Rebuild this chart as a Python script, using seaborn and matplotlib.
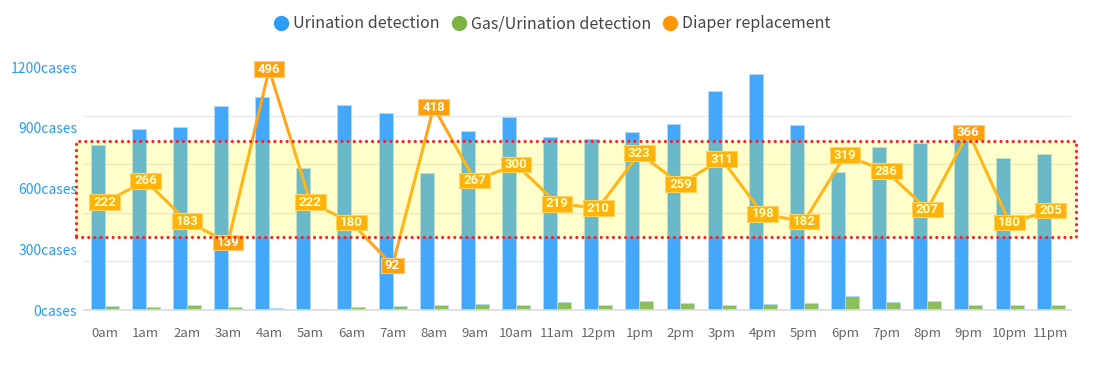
import numpy as np
import pandas as pd
import matplotlib
matplotlib.use("Agg")
import matplotlib.pyplot as plt
import seaborn as sns
from matplotlib.lines import Line2D
from matplotlib.patches import Rectangle
from matplotlib.path import Path
from matplotlib.transforms import blended_transform_factory

# data
hours = ["0am", "1am", "2am", "3am", "4am", "5am", "6am", "7am", "8am", "9am", "10am", "11am",
         "12pm", "1pm", "2pm", "3pm", "4pm", "5pm", "6pm", "7pm", "8pm", "9pm", "10pm", "11pm"]
urination = [816, 893, 906, 1008, 1054, 700, 1013, 972, 676, 885, 955, 854,
             845, 881, 919, 1084, 1167, 914, 684, 807, 824, 849, 753, 770]
gas_urination = [20, 17, 23, 17, 10, 5, 15, 20, 27, 30, 25, 42,
                 27, 43, 33, 27, 28, 37, 69, 42, 46, 27, 27, 27]
diaper = [222, 266, 183, 139, 496, 222, 180, 92, 418, 267, 300, 219,
          210, 323, 259, 311, 198, 182, 319, 286, 207, 366, 180, 205]
series_names = ["Urination detection", "Gas/Urination detection", "Diaper replacement"]
left_ticks = [0, 300, 600, 900, 1200]
right_ticks = [0, 100, 200, 300, 400, 500]
band_range = [151, 349]   # highlighted range on the replacement axis

BLUE = "#44a8fa"
GREEN = "#8cbf5a"
LINE = "#ffa41c"
BOX = "#ff9f0a"
LEGEND_COLORS = ["#2d9cf5", "#7cb342", "#ff9800"]

sns.set_style("white")
plt.rcParams["font.family"] = ["Noto Sans CJK JP", "DejaVu Sans"]

W, H = 1110, 368
fig = plt.figure(figsize=(W / 100, H / 100), dpi=100)
ax = fig.add_axes([84 / W, 58 / H, 987.3 / W, 242.7 / H])

bars = pd.DataFrame({
    "hour": hours * 2,
    "count": urination + gas_urination,
    "series": [series_names[0]] * len(hours) + [series_names[1]] * len(hours),
})
sns.barplot(data=bars, x="hour", y="count", hue="series", order=hours,
            hue_order=series_names[:2], palette=[BLUE, GREEN], width=0.68, gap=0,
            saturation=1, errorbar=None, edgecolor="#b3d9fb", linewidth=0.6,
            legend=False, ax=ax, zorder=2)

ax.set_ylim(left_ticks[0], left_ticks[-1])
ax.set_yticks(left_ticks)
ax.set_yticklabels([f"{v}cases" for v in left_ticks])
# grid follows the hidden replacement axis
scale = left_ticks[-1] / right_ticks[-1]
ax.set_yticks([v * scale for v in right_ticks], minor=True)
ax.grid(which="minor", axis="y", color="#e8e8e8", linewidth=1, zorder=0)
ax.grid(which="major", axis="y", visible=False)
ax.set_axisbelow(True)
ax.tick_params(axis="y", which="both", length=0, pad=5, labelsize=10, labelcolor="#2a9af5")
ax.tick_params(axis="x", length=4, width=0.8, color="#cccccc", pad=8,
               labelsize=9.5, labelcolor="#666666")
ax.set_xlabel("")
ax.set_ylabel("")
for side in ["left", "right", "top"]:
    ax.spines[side].set_visible(False)
ax.spines["bottom"].set_color("#dddddd")
ax.spines["bottom"].set_linewidth(1.2)

ax2 = ax.twinx()
sns.lineplot(x=np.arange(len(hours)), y=diaper, color=LINE, linewidth=2.2, ax=ax2, zorder=2)
ax2.set_ylim(right_ticks[0], right_ticks[-1])
ax2.set_yticks([])
ax2.set_ylabel("")
for side in ["left", "right", "top", "bottom"]:
    ax2.spines[side].set_visible(False)
ax.set_xlim(-0.5, len(hours) - 0.5)


def label_box(x0, y0, width, height, mutation_size):
    px = 0.3 * mutation_size
    py = 0.1 * mutation_size
    return Path([(x0 - px, y0 - py), (x0 + width + px, y0 - py),
                 (x0 + width + px, y0 + height + py), (x0 - px, y0 + height + py),
                 (x0 - px, y0 - py)], closed=True)


for i, v in enumerate(diaper):
    ax2.text(i, v, f"{v}", ha="center", va="center", color="white", fontsize=9.5,
             fontweight="bold", family=["Roboto", "DejaVu Sans"], zorder=4,
             bbox=dict(boxstyle=label_box, fc=BOX, ec="#ffc978", lw=0.8))

# highlighted band drawn over everything
trans = blended_transform_factory(ax2.transAxes, ax2.transData)
x0 = (76 - 84) / 987.3
x1 = (1076 - 84) / 987.3
ax2.add_patch(Rectangle((x0, band_range[0]), x1 - x0, band_range[1] - band_range[0],
                        transform=trans, fc=(1, 1, 0, 0.2), ec="none", zorder=5, clip_on=False))
ax2.add_patch(Rectangle((x0, band_range[0]), x1 - x0, band_range[1] - band_range[0],
                        transform=trans, fc="none", ec="#ff1f1f", lw=2.3,
                        ls=(0, (0.01, 1.9)), capstyle="round", zorder=6, clip_on=False))

handles = [Line2D([], [], marker="o", linestyle="", markersize=10,
                  markerfacecolor=c, markeredgecolor=c) for c in LEGEND_COLORS]
fig.legend(handles, series_names, loc="center", bbox_to_anchor=(0.497, 1 - 24 / H),
           ncol=3, frameon=False, fontsize=11.5, handletextpad=0.25, columnspacing=0.7,
           handlelength=1.0, labelcolor="#444444")

fig.savefig("out.png", dpi=100)
